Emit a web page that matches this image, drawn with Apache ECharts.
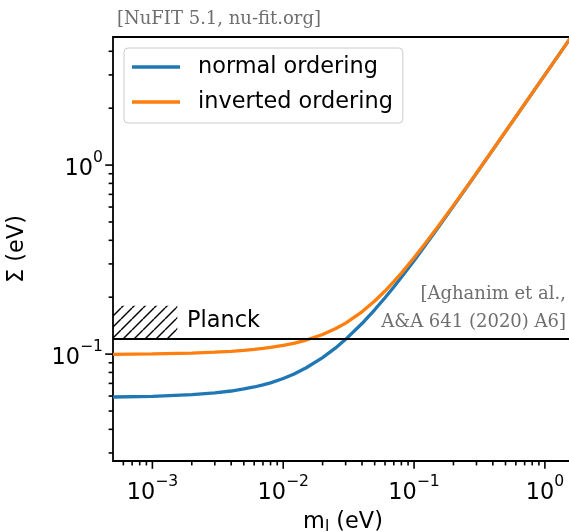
<!DOCTYPE html>
<html>
<head>
<meta charset="utf-8">
<script src="https://cdn.jsdelivr.net/npm/echarts@6/dist/echarts.min.js"></script>
<style>
  html, body { margin: 0; padding: 0; background: #fff; }
  #chart { width: 569px; height: 532px; }
</style>
</head>
<body>
<div id="chart"></div>
<script>
// ---- data ----
const lightestMass = [5e-4, 1e-3, 2e-3, 3e-3, 4e-3, 5e-3, 6e-3, 7e-3, 8e-3, 1e-2, 1.2e-2, 1.5e-2, 2e-2, 2.5e-2, 3e-2, 4e-2, 5e-2, 6e-2, 7e-2, 8e-2, 0.1, 0.12, 0.15, 0.2, 0.25, 0.3, 0.4, 0.5, 0.7, 1, 1.3, 1.6];
const sumNormal = [0.0593, 0.0598, 0.0610, 0.0624, 0.0638, 0.0654, 0.0670, 0.0687, 0.0705, 0.0743, 0.0783, 0.0847, 0.0958, 0.1075, 0.1197, 0.1451, 0.1716, 0.1988, 0.2266, 0.2549, 0.3122, 0.3704, 0.4584, 0.6064, 0.7551, 0.9043, 1.2032, 1.5026, 2.1019, 3.0013, 3.9010, 4.8008];
const sumInverted = [0.0997, 0.1002, 0.1013, 0.1024, 0.1035, 0.1047, 0.1059, 0.1072, 0.1085, 0.1112, 0.1141, 0.1187, 0.1270, 0.1361, 0.1459, 0.1675, 0.1909, 0.2157, 0.2416, 0.2683, 0.3233, 0.3797, 0.4660, 0.6121, 0.7598, 0.9082, 1.2061, 1.5049, 2.1035, 3.0025, 3.9019, 4.8015];
const seriesNames = ['normal ordering', 'inverted ordering'];

const planckLimit = 0.12;
const planckBoxX = [5e-4, 1.55e-3];
const planckBoxY = [0.12, 0.18];

const xRange = [5e-4, 1.64];
const yRange = [0.0272, 4.76];

const xMajorTicks = [1e-3, 1e-2, 1e-1, 1];
const xTickLabels = ['−3', '−2', '−1', '0'];
const xMinorTicks = [6e-4, 7e-4, 8e-4, 9e-4, 2e-3, 3e-3, 4e-3, 5e-3, 6e-3, 7e-3, 8e-3, 9e-3, 0.02, 0.03, 0.04, 0.05, 0.06, 0.07, 0.08, 0.09, 0.2, 0.3, 0.4, 0.5, 0.6, 0.7, 0.8, 0.9];
const yMajorTicks = [0.1, 1];
const yTickLabels = ['−1', '0'];
const yMinorTicks = [0.03, 0.04, 0.05, 0.06, 0.07, 0.08, 0.09, 0.2, 0.3, 0.4, 0.5, 0.6, 0.7, 0.8, 0.9, 2, 3, 4];

// ---- styling ----
const SANS = 'DejaVu Sans';
const SERIF = 'DejaVu Serif';
const FS = 22.4;
const FS_SUP = 15.6;

function findLabel(v, ticks, labels) {
  for (let i = 0; i < ticks.length; i++) {
    if (Math.abs(Math.log10(v) - Math.log10(ticks[i])) < 1e-6) return labels[i];
  }
  return null;
}
const tickRich = {
  b: { fontFamily: SANS, fontSize: FS, lineHeight: 30, verticalAlign: 'bottom', color: '#000' },
  s: { fontFamily: SANS, fontSize: FS_SUP, lineHeight: 13, verticalAlign: 'top', color: '#000' }
};

// hatch pattern
const tile = document.createElement('canvas');
tile.width = 11; tile.height = 11;
const tc = tile.getContext('2d');
tc.strokeStyle = '#000'; tc.lineWidth = 1.4;
for (let k = -1; k <= 1; k++) {
  tc.beginPath(); tc.moveTo(k * 11, 11); tc.lineTo(k * 11 + 11, 0); tc.stroke();
}

const xTickData = xMajorTicks.map(v => [v, yRange[0], 1]).concat(xMinorTicks.map(v => [v, yRange[0], 0]));
const yTickData = yMajorTicks.map(v => [xRange[0], v, 1]).concat(yMinorTicks.map(v => [xRange[0], v, 0]));

const chart = echarts.init(document.getElementById('chart'), null, { renderer: 'canvas' });
chart.setOption({
  animation: false,
  backgroundColor: '#fff',
  grid: {
    left: 113, right: -4, top: 37, bottom: 71, containLabel: false, outerBoundsMode: 'none',
    show: true, borderColor: '#000', borderWidth: 1.8, backgroundColor: 'transparent'
  },
  xAxis: {
    type: 'log', logBase: 10, min: xRange[0], max: xRange[1],
    axisLine: { show: false }, axisTick: { show: false }, splitLine: { show: false }, minorTick: { show: false },
    axisLabel: {
      showMinLabel: false, showMaxLabel: false, margin: 13,
      formatter: v => { const l = findLabel(v, xMajorTicks, xTickLabels); return l === null ? '' : '{b|10}{s|' + l + '}'; },
      rich: tickRich
    },
    name: 'm{s|l} (eV)', nameLocation: 'middle', nameGap: 48,
    nameTextStyle: {
      fontFamily: SANS, fontSize: FS, color: '#000',
      rich: {
        s: { fontFamily: SANS, fontSize: FS_SUP, lineHeight: 14, verticalAlign: 'bottom', color: '#000' }
      },
      lineHeight: 26, verticalAlign: 'top'
    }
  },
  yAxis: {
    type: 'log', logBase: 10, min: yRange[0], max: yRange[1],
    axisLine: { show: false }, axisTick: { show: false }, splitLine: { show: false }, minorTick: { show: false },
    axisLabel: {
      showMinLabel: false, showMaxLabel: false, margin: 10,
      formatter: v => { const l = findLabel(v, yMajorTicks, yTickLabels); return l === null ? '' : '{b|10}{s|' + l + '}'; },
      rich: tickRich
    },
    name: 'Σ (eV)', nameLocation: 'middle', nameGap: 85,
    nameTextStyle: { fontFamily: SANS, fontSize: FS, color: '#000' }
  },
  legend: {
    data: seriesNames, orient: 'vertical', left: 124, top: 48,
    icon: 'rect', itemWidth: 48, itemHeight: 3.3, itemGap: 11,
    padding: [7, 10, 9, 8],
    selectedMode: false,
    backgroundColor: 'rgba(255,255,255,0.8)', borderColor: '#cccccc', borderWidth: 1, borderRadius: 4,
    textStyle: { fontFamily: SANS, fontSize: FS, color: '#000', lineHeight: 24, padding: [0, 0, 0, 13] }
  },
  series: [
    {
      name: seriesNames[0], type: 'line', symbol: 'none', showSymbol: false,
      data: lightestMass.map((m, i) => [m, sumNormal[i]]),
      lineStyle: { color: '#1f77b4', width: 3.3 }, itemStyle: { color: '#1f77b4' },
      z: 3,
      markLine: {
        silent: true, symbol: ['none', 'none'], label: { show: false },
        lineStyle: { color: '#000', width: 2, type: 'solid' },
        data: [{ yAxis: planckLimit }]
      },
      markArea: {
        silent: true,
        itemStyle: { color: { image: tile, repeat: 'repeat' }, opacity: 1, borderWidth: 0 },
        data: [[{ xAxis: planckBoxX[0], yAxis: planckBoxY[0] }, { xAxis: planckBoxX[1], yAxis: planckBoxY[1] }]]
      }
    },
    {
      name: seriesNames[1], type: 'line', symbol: 'none', showSymbol: false,
      data: lightestMass.map((m, i) => [m, sumInverted[i]]),
      lineStyle: { color: '#ff7f0e', width: 3.3 }, itemStyle: { color: '#ff7f0e' },
      z: 4
    },
    {
      type: 'custom', silent: true, clip: false, z: 5,
      data: xTickData,
      renderItem: (params, api) => {
        const p = api.coord([api.value(0), api.value(1)]);
        const len = api.value(2) ? 7.8 : 4.4;
        return { type: 'line', shape: { x1: p[0], y1: p[1], x2: p[0], y2: p[1] + len }, style: { stroke: '#000', lineWidth: 1.6 } };
      }
    },
    {
      type: 'custom', silent: true, clip: false, z: 5,
      data: yTickData,
      renderItem: (params, api) => {
        const p = api.coord([api.value(0), api.value(1)]);
        const len = api.value(2) ? 7.8 : 4.4;
        return { type: 'line', shape: { x1: p[0] - len, y1: p[1], x2: p[0], y2: p[1] }, style: { stroke: '#000', lineWidth: 1.6 } };
      }
    }
  ],
  graphic: [
    { type: 'text', x: 117, y: 19, style: { text: '[NuFIT 5.1, nu-fit.org]', fontFamily: SERIF, fontSize: 18, fill: '#6e6e6e', verticalAlign: 'middle', align: 'left' } },
    { type: 'text', x: 187, y: 321.5, style: { text: 'Planck', fontFamily: SANS, fontSize: FS, fill: '#000', verticalAlign: 'middle', align: 'left' } },
    { type: 'text', x: 566, y: 308.5, style: { text: '[Aghanim et al.,\nA&A 641 (2020) A6]', fontFamily: SERIF, fontSize: 18, lineHeight: 28, fill: '#6e6e6e', align: 'right', verticalAlign: 'middle' } }
  ]
});
</script>
</body>
</html>
